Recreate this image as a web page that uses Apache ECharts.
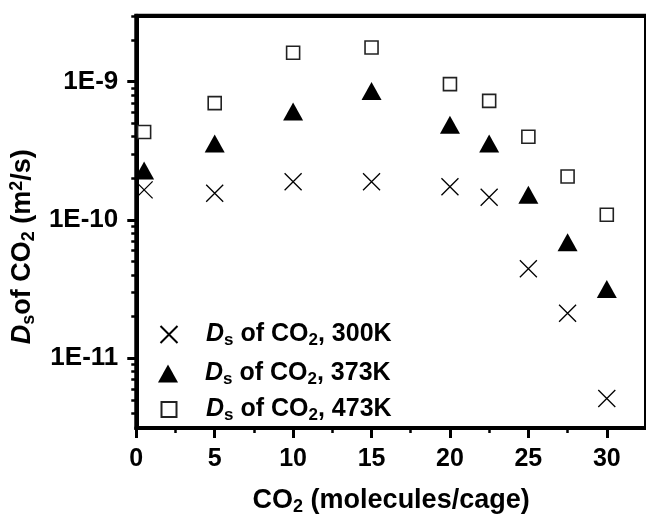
<!DOCTYPE html>
<html><head><meta charset="utf-8">
<script src="https://cdn.jsdelivr.net/npm/echarts@6/dist/echarts.min.js"></script>
<style>html,body{margin:0;padding:0;background:#fff}#c{width:646px;height:521px}</style>
</head><body><div id="c"></div>
<script>
// ---- data ----
const xValues = [0.5, 5, 10, 15, 20, 22.5, 25, 27.5, 30];
const ds300K = [1.65e-10, 1.56e-10, 1.89e-10, 1.89e-10, 1.74e-10, 1.46e-10, 4.43e-11, 2.11e-11, 5.1e-12];
const ds373K = [2.28e-10, 3.57e-10, 6.08e-10, 8.55e-10, 4.89e-10, 3.57e-10, 1.52e-10, 6.9e-11, 3.16e-11];
const ds473K = [4.33e-10, 7.0e-10, 1.62e-9, 1.77e-9, 9.6e-10, 7.26e-10, 4.0e-10, 2.06e-10, 1.09e-10];
const seriesNames = ['300K', '373K', '473K'];
const xTickLabels = [0, 5, 10, 15, 20, 25, 30];
const xMinorTicks = [2.5, 7.5, 12.5, 17.5, 22.5, 27.5];
const yDecades = [-11, -10, -9];        // log10 of 1E-11, 1E-10, 1E-9
const yMinorMultipliers = [2, 3, 4, 5, 6, 7, 8, 9];

// ---- setup ----
const FONT = '"Liberation Sans", Arial, sans-serif';
const yMin = -11.5054, yMax = -8.5225;
const yMinor = [];
[-12, -11, -10, -9].forEach(n => yMinorMultipliers.forEach(k => {
  const v = n + Math.log10(k);
  if (v > yMin && v < yMax) yMinor.push(v);
}));
const toPts = arr => arr.map((v, i) => [xValues[i], Math.log10(v)]);

function richSet(size, subSize, lh) {
  return {
    i: {fontFamily: FONT, fontWeight: 'bold', fontStyle: 'italic', fontSize: size, lineHeight: lh, color: '#000'},
    b: {fontFamily: FONT, fontWeight: 'bold', fontSize: size, lineHeight: lh, color: '#000'},
    sub: {fontFamily: FONT, fontWeight: 'bold', fontSize: subSize, lineHeight: 12, verticalAlign: 'bottom', color: '#000'},
    sup: {fontFamily: FONT, fontWeight: 'bold', fontSize: subSize, lineHeight: 12, verticalAlign: 'top', color: '#000'},
    sp: {width: 1}
  };
}

const chart = echarts.init(document.getElementById('c'), null, {renderer: 'canvas', devicePixelRatio: 1});

const symbols = {
  '300K': {symbol: 'path://M0,0L10,10M10,0L0,10', size: 17, style: {color: 'transparent', borderColor: '#000', borderWidth: 1.3, opacity: 1}},
  '373K': {symbol: 'triangle', size: [20, 18], style: {color: '#000', borderColor: '#000', borderWidth: 0, opacity: 1}},
  '473K': {symbol: 'rect', size: 13, style: {color: '#fff', borderColor: '#222', borderWidth: 1.6, opacity: 1}}
};
const seriesData = {'300K': ds300K, '373K': ds373K, '473K': ds473K};

// legend rows (icon width/height, icon centre ~168, text starts ~205)
const legendRows = [
  {top: 322, w: 17, h: 17},
  {top: 361, w: 20, h: 18},
  {top: 397, w: 15, h: 15}
];

const yTitleRich = richSet(27, 18, 30);
yTitleRich.sp = {width: 50};

const option = {
  animation: false,
  backgroundColor: '#fff',
  grid: {left: 135, top: 15.7, right: -5, bottom: 88, containLabel: false,
         show: true, borderColor: '#000', borderWidth: 4, backgroundColor: 'transparent'},
  legend: seriesNames.map((n, i) => {
    const r = legendRows[i];
    const iconLeft = 168 - r.w / 2;
    const spacer = 205 - (iconLeft + r.w + 5);
    const rs = richSet(25, 17, 28);
    rs.sp = {width: spacer};
    return {
      data: [n], orient: 'vertical', left: iconLeft, top: r.top, padding: 0,
      itemWidth: r.w, itemHeight: r.h, itemGap: 0,
      itemStyle: {opacity: 1},
      formatter: name => '{sp|}{i|D}{sub|s}{b| of CO}{sub|2}{b|, ' + name + '}',
      textStyle: {rich: rs}
    };
  }),
  xAxis: [
    {
      type: 'value', min: 0, max: 32.5, position: 'bottom',
      axisLine: {show: true, onZero: false, lineStyle: {color: '#000', width: 4}},
      axisTick: {show: true, customValues: xTickLabels, length: 10, lineStyle: {color: '#000', width: 3}},
      axisLabel: {customValues: xTickLabels, margin: 19, fontFamily: FONT, fontWeight: 'bold', fontSize: 25, color: '#000'},
      splitLine: {show: false},
      name: '{b|CO}{sub|2}{b| (molecules/cage)}', nameLocation: 'middle', nameGap: 58,
      nameTextStyle: {rich: richSet(27, 18, 30)}
    },
    {
      type: 'value', min: 0, max: 32.5, position: 'bottom',
      axisLine: {show: false},
      axisTick: {show: true, customValues: xMinorTicks, length: 5, lineStyle: {color: '#000', width: 2.5}},
      axisLabel: {show: false}, splitLine: {show: false}
    },
    {
      type: 'value', min: 0, max: 32.5, position: 'top',
      axisLine: {show: true, onZero: false, lineStyle: {color: '#000', width: 4}},
      axisTick: {show: false}, axisLabel: {show: false}, splitLine: {show: false}
    }
  ],
  yAxis: [
    {
      type: 'value', min: yMin, max: yMax, position: 'left',
      axisLine: {show: true, onZero: false, lineStyle: {color: '#000', width: 4}},
      axisTick: {show: true, customValues: yDecades, length: 9, lineStyle: {color: '#000', width: 3}},
      axisLabel: {customValues: yDecades, margin: 18, fontFamily: FONT, fontWeight: 'bold', fontSize: 26, color: '#000',
        formatter: v => '1E' + Math.round(v)},
      splitLine: {show: false},
      name: '{i|D}{sub|s}{b|of CO}{sub|2}{b| (m}{sup|2}{b|/s)}{sp|}', nameLocation: 'middle', nameRotate: 90, nameGap: 90,
      nameTextStyle: {rich: yTitleRich}
    },
    {
      type: 'value', min: yMin, max: yMax, position: 'left',
      axisLine: {show: false},
      axisTick: {show: true, customValues: yMinor, length: 5, lineStyle: {color: '#000', width: 2.5}},
      axisLabel: {show: false}, splitLine: {show: false}
    }
  ],
  series: seriesNames.map(n => ({
    name: n, type: 'scatter', xAxisIndex: 0, yAxisIndex: 0,
    symbol: symbols[n].symbol, symbolSize: symbols[n].size,
    itemStyle: symbols[n].style,
    emphasis: {disabled: true},
    data: toPts(seriesData[n])
  }))
};
chart.setOption(option);
</script>
</body></html>
